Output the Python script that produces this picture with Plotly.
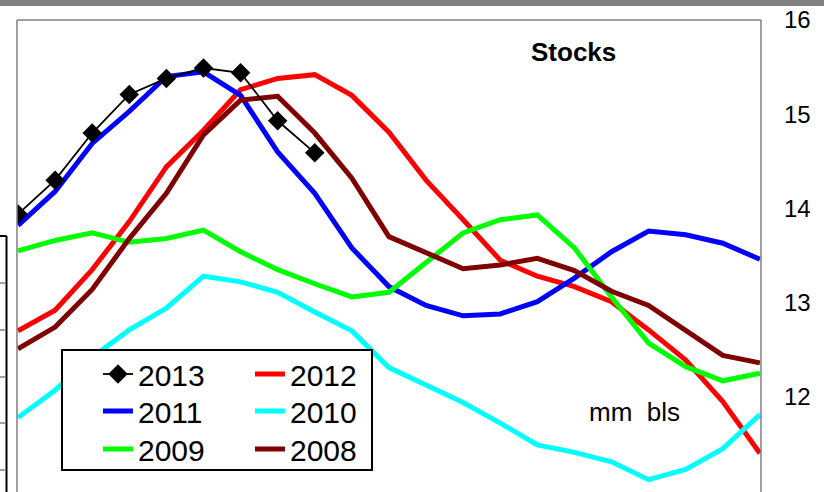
import plotly.graph_objects as go

# ---- data ----
periods = list(range(21))
s2013 = [13.94, 14.30, 14.80, 15.21, 15.38, 15.49, 15.44, 14.93, 14.59]
s2012 = [12.70, 12.92, 13.35, 13.86, 14.44, 14.83, 15.26, 15.38, 15.42, 15.20, 14.81,
         14.30, 13.88, 13.45, 13.28, 13.17, 13.01, 12.71, 12.39, 11.95, 11.40]
s2011 = [13.82, 14.18, 14.69, 15.03, 15.40, 15.45, 15.20, 14.60, 14.16, 13.58, 13.17,
         12.97, 12.86, 12.88, 13.01, 13.26, 13.54, 13.76, 13.72, 13.63, 13.46]
s2010 = [11.78, 12.07, 12.42, 12.71, 12.94, 13.28, 13.22, 13.11, 12.90, 12.70, 12.31,
         12.12, 11.94, 11.72, 11.49, 11.41, 11.31, 11.12, 11.23, 11.45, 11.81]
s2009 = [13.55, 13.66, 13.74, 13.64, 13.68, 13.77, 13.54, 13.35, 13.20, 13.06, 13.11,
         13.42, 13.74, 13.88, 13.93, 13.58, 13.06, 12.57, 12.32, 12.17, 12.25]
s2008 = [12.51, 12.74, 13.14, 13.68, 14.16, 14.78, 15.15, 15.19, 14.80, 14.32, 13.70,
         13.53, 13.36, 13.40, 13.47, 13.34, 13.12, 12.97, 12.71, 12.44, 12.36]
y_ticks = [11, 12, 13, 14, 15, 16]
title_text = "Stocks"
unit_text = "mm  bls"

W, H = 824, 492
ML, MR, MT, MB = 17, 63, 20, 0
PW, PH = W - ML - MR, H - MT - MB


def px(x):
    return (x - ML) / PW


def py(y):
    return (H - MB - y) / PH


FONT = "Liberation Sans, Arial, sans-serif"

fig = go.Figure()

series = [
    ("2012", s2012, "#ff0000", "legend2"),
    ("2011", s2011, "#0000ff", "legend3"),
    ("2010", s2010, "#00ffff", "legend4"),
    ("2009", s2009, "#00ff00", "legend5"),
    ("2008", s2008, "#800000", "legend6"),
]
for name, vals, col, lg in series:
    fig.add_trace(go.Scatter(x=periods[:len(vals)], y=vals, name=name, mode="lines",
                             line=dict(color=col, width=5), legend=lg))

fig.add_trace(go.Scatter(x=periods[:len(s2013)], y=s2013, name="2013", mode="lines+markers",
                         line=dict(color="black", width=1.8),
                         marker=dict(symbol="diamond", size=15, color="black"),
                         legend="legend"))

# legend positions (one legend per entry, 2 columns x 3 rows)
col_x = [px(98), px(250)]
row_y = [py(374), py(411), py(449)]
leg_common = dict(bgcolor="rgba(0,0,0,0)", borderwidth=0, xanchor="left", yanchor="middle",
                  font=dict(family=FONT, size=30, color="black"), itemwidth=30)
fig.update_layout(
    legend=dict(x=col_x[0], y=row_y[0], **leg_common),
    legend2=dict(x=col_x[1], y=row_y[0], **leg_common),
    legend3=dict(x=col_x[0], y=row_y[1], **leg_common),
    legend4=dict(x=col_x[1], y=row_y[1], **leg_common),
    legend5=dict(x=col_x[0], y=row_y[2], **leg_common),
    legend6=dict(x=col_x[1], y=row_y[2], **leg_common),
)

shapes = [
    # top gray band
    dict(type="rect", xref="paper", yref="paper", x0=px(0), x1=px(W), y0=py(6), y1=py(0),
         fillcolor="#808080", line=dict(width=0), layer="above"),
    # plot frame (top, left, right)
    dict(type="line", xref="paper", yref="paper", x0=0, x1=1, y0=1, y1=1,
         line=dict(color="#808080", width=1.5)),
    dict(type="line", xref="paper", yref="paper", x0=0, x1=0, y0=0, y1=1,
         line=dict(color="#808080", width=1.5)),
    dict(type="line", xref="paper", yref="paper", x0=1, x1=1, y0=0, y1=1,
         line=dict(color="#808080", width=1.5)),
    # legend box
    dict(type="rect", xref="paper", yref="paper", x0=px(62), x1=px(372), y0=py(470), y1=py(350),
         fillcolor="white", line=dict(color="black", width=2), layer="above"),
    # neighbouring panel edge at far left
    dict(type="line", xref="paper", yref="paper", x0=px(6.5), x1=px(6.5), y0=py(H), y1=py(236),
         line=dict(color="black", width=2)),
    dict(type="line", xref="paper", yref="paper", x0=px(0), x1=px(6.5), y0=py(236), y1=py(236),
         line=dict(color="black", width=2)),
]
for ty in [283, 330, 377, 423, 470]:
    shapes.append(dict(type="line", xref="paper", yref="paper", x0=px(0), x1=px(6), y0=py(ty), y1=py(ty),
                       line=dict(color="#808080", width=1.5)))

annotations = [
    dict(text="<b>" + title_text + "</b>", xref="paper", yref="paper", x=px(573), y=py(52),
         showarrow=False, font=dict(family=FONT, size=26, color="black"), xanchor="center", yanchor="middle"),
    dict(text=unit_text.replace(" ", "&nbsp;"), xref="paper", yref="paper", x=px(634), y=py(412),
         showarrow=False, font=dict(family=FONT, size=26, color="black"), xanchor="center", yanchor="middle"),
]

fig.update_layout(
    width=W, height=H,
    margin=dict(l=ML, r=MR, t=MT, b=MB, pad=0),
    paper_bgcolor="white", plot_bgcolor="white",
    shapes=shapes, annotations=annotations,
    xaxis=dict(range=[-0.027, 20.03], visible=False, showgrid=False, zeroline=False, fixedrange=True),
    yaxis=dict(range=[16 - PH / 94.2, 16], side="right", tickvals=y_ticks,
               ticktext=[str(v) for v in y_ticks], showgrid=False, zeroline=False, showline=False,
               ticks="", ticklabelstandoff=22, fixedrange=True,
               tickfont=dict(family=FONT, size=24, color="black")),
    showlegend=True,
)

fig.write_html("out.html", config={"displayModeBar": False},
               post_script="document.body.style.margin='0';")
